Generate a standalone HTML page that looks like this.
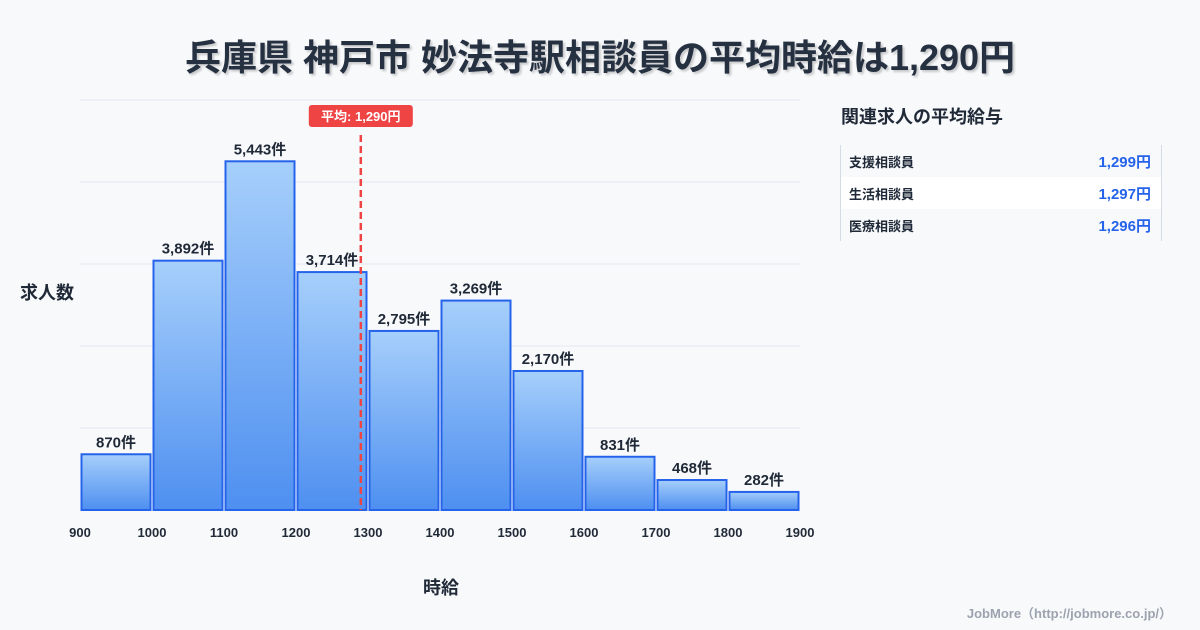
<!DOCTYPE html>
<html><head><meta charset="utf-8"><style>
body{margin:0;width:1200px;height:630px;background:#f8f9fb;font-family:"Liberation Sans","Noto Sans CJK JP",sans-serif;overflow:hidden;position:relative}
.t{position:absolute;font-weight:700;color:#1f2937}
</style></head><body>
<div class="t" style="left:0;width:1200px;top:29px;text-align:center;font-size:36px;text-shadow:2px 2px 2px rgba(0,0,0,0.2);color:#253041">兵庫県 神戸市 妙法寺駅相談員の平均時給は1,290円</div>
<svg width="1200" height="630" style="position:absolute;left:0;top:0" id="chart" font-family="Liberation Sans, Noto Sans CJK JP, sans-serif">
<defs><linearGradient id="g" x1="0" y1="0" x2="0" y2="1"><stop offset="0" stop-color="#a6cffb"/><stop offset="1" stop-color="#4e8ff0"/></linearGradient></defs>
<g id="grid"></g><g id="bars"></g><g id="ticks"></g>
<text x="441" y="594" text-anchor="middle" font-size="18" font-weight="700" fill="#1f2937">時給</text>
<text x="20" y="299" font-size="18" font-weight="700" fill="#1f2937">求人数</text>
<g id="mean"></g>
</svg>
<div class="t" style="left:841px;top:103px;font-size:18px">関連求人の平均給与</div>
<div style="position:absolute;left:840px;top:145px;width:320px;height:96px;border-left:1px solid #d5dbe3;border-right:1px solid #d5dbe3;font-size:13px;font-weight:700">
<div style="height:32px;display:flex;justify-content:space-between;align-items:center;padding:0 10px 0 8px;color:#1f2937"><span>支援相談員</span><span style="color:#2563eb;font-size:15px">1,299円</span></div>
<div style="height:32px;display:flex;justify-content:space-between;align-items:center;padding:0 10px 0 8px;background:#fff;color:#1f2937"><span>生活相談員</span><span style="color:#2563eb;font-size:15px">1,297円</span></div>
<div style="height:32px;display:flex;justify-content:space-between;align-items:center;padding:0 10px 0 8px;color:#1f2937"><span>医療相談員</span><span style="color:#2563eb;font-size:15px">1,296円</span></div>
</div>
<div style="position:absolute;right:28px;top:603px;font-size:13px;font-weight:700;color:#9ca3af">JobMore（http://jobmore.co.jp/）</div>
<script>
const binStarts=[900,1000,1100,1200,1300,1400,1500,1600,1700,1800];
const counts=[870,3892,5443,3714,2795,3269,2170,831,468,282];
const xTicks=[900,1000,1100,1200,1300,1400,1500,1600,1700,1800,1900];
const meanValue=1290;
const yMax=6400, gridStep=1280;
const NS="http://www.w3.org/2000/svg";
const X=v=>80+(v-900)*0.72, Y=v=>510-v*(410/yMax);
function mk(t,a,p){const e=document.createElementNS(NS,t);for(const k in a)e.setAttribute(k,a[k]);p.appendChild(e);return e;}
const grid=document.getElementById('grid');
for(let v=gridStep;v<=yMax;v+=gridStep){const l=mk('line',{x1:80,x2:800,y1:Y(v),y2:Y(v),stroke:'#e3e8ef','stroke-width':1},grid);

}
const bars=document.getElementById('bars');
binStarts.forEach((b,i)=>{const x0=X(b)+1.5,x1=X(b+100)-1.5,y=Y(counts[i]);
const r=mk('rect',{x:x0,y:y,width:x1-x0,height:510-y,fill:'url(#g)',stroke:'#2563eb','stroke-width':2},bars);


const t=mk('text',{x:(x0+x1)/2,y:y-7,'text-anchor':'middle','font-size':15,'font-weight':700,fill:'#1f2937'},bars);
t.textContent=counts[i].toLocaleString('en-US')+'件';

});
const tk=document.getElementById('ticks');
xTicks.forEach(v=>{const t=mk('text',{x:X(v),y:537,'text-anchor':'middle','font-size':13,'font-weight':700,fill:'#1f2937'},tk);t.textContent=v;

});
const m=document.getElementById('mean'),mx=X(meanValue);
const ml=mk('line',{x1:mx,x2:mx,y1:135,y2:510,stroke:'#ef4444','stroke-width':2.5,'stroke-dasharray':'7,4'},m);


const mr=mk('rect',{x:mx-52,y:105,width:104,height:22,rx:3,fill:'#ef4444'},m);


const mt=mk('text',{x:mx,y:121,'text-anchor':'middle','font-size':13,'font-weight':700,fill:'#fff'},m);
mt.textContent='平均: '+meanValue.toLocaleString('en-US')+'円';


</script>
</body></html>
